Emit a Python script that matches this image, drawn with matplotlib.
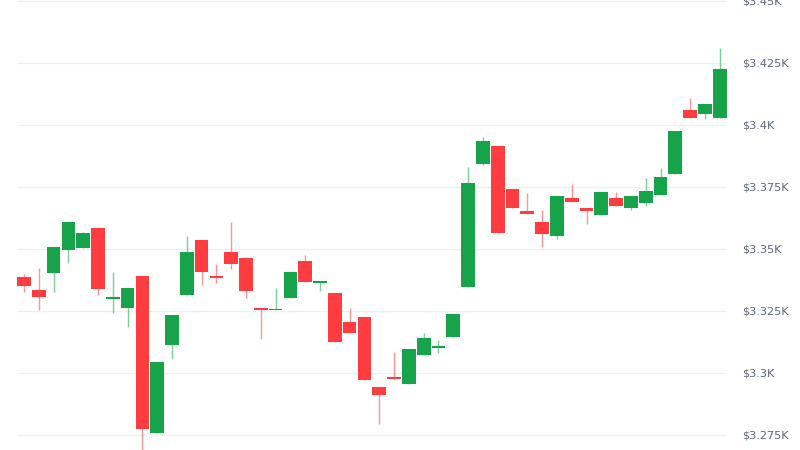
import numpy as np
import matplotlib.pyplot as plt

# OHLC values (48 candles)
opens = [3338.6, 3333.5, 3340.4, 3349.6, 3350.4, 3358.6, 3329.8, 3326.3,
         3339.2, 3275.7, 3311.3, 3331.5, 3353.6, 3339.0, 3348.9, 3346.2,
         3326.1, 3325.3, 3330.4, 3345.2, 3336.2, 3332.1, 3320.4, 3322.7,
         3294.5, 3298.5, 3295.4, 3307.1, 3310.2, 3314.4, 3334.6, 3384.4,
         3391.5, 3374.1, 3365.3, 3360.9, 3355.1, 3370.6, 3366.7, 3363.6,
         3370.6, 3366.4, 3368.7, 3371.8, 3380.1, 3405.9, 3404.3, 3402.7]
highs = [3339.9, 3342.5, 3350.9, 3361.0, 3357.0, 3358.6, 3340.7, 3334.2,
         3339.2, 3304.4, 3323.4, 3355.4, 3353.6, 3344.0, 3361.0, 3346.9,
         3326.1, 3334.2, 3340.6, 3347.6, 3337.2, 3332.1, 3326.1, 3322.7,
         3294.5, 3308.6, 3309.6, 3316.2, 3313.3, 3323.8, 3383.1, 3395.3,
         3391.5, 3374.1, 3372.5, 3365.7, 3371.2, 3376.1, 3366.7, 3373.1,
         3373.1, 3371.5, 3378.5, 3382.8, 3397.7, 3410.8, 3408.6, 3430.9]
lows = [3332.8, 3325.4, 3332.8, 3344.5, 3350.4, 3331.3, 3324.3, 3318.5,
        3268.5, 3275.7, 3305.6, 3331.5, 3335.5, 3336.2, 3341.9, 3330.1,
        3313.8, 3325.3, 3330.4, 3336.6, 3333.2, 3312.5, 3316.0, 3297.1,
        3279.4, 3297.6, 3295.4, 3307.1, 3308.2, 3314.4, 3334.6, 3383.9,
        3356.6, 3366.4, 3364.2, 3350.7, 3353.9, 3369.1, 3360.2, 3363.6,
        3367.2, 3365.7, 3367.5, 3371.8, 3380.1, 3402.7, 3402.3, 3402.7]
closes = [3335.1, 3330.6, 3350.9, 3361.0, 3356.5, 3333.7, 3330.6, 3334.2,
          3277.5, 3304.4, 3323.4, 3348.9, 3340.8, 3338.4, 3343.8, 3333.1,
          3325.5, 3325.8, 3340.6, 3336.6, 3337.2, 3312.5, 3316.0, 3297.1,
          3291.1, 3297.6, 3309.6, 3314.1, 3310.6, 3323.8, 3376.7, 3393.4,
          3356.6, 3366.4, 3364.2, 3355.9, 3371.2, 3369.1, 3365.2, 3373.1,
          3367.2, 3371.5, 3373.3, 3379.2, 3397.7, 3402.7, 3408.6, 3422.5]

price_ticks = [3275, 3300, 3325, 3350, 3375, 3400, 3425, 3450]
tick_labels = ['$3.275K', '$3.3K', '$3.325K', '$3.35K', '$3.375K', '$3.4K', '$3.425K', '$3.45K']

green = '#17a34a'
red = '#ff3c40'

o = np.array(opens)
c = np.array(closes)
x = np.arange(len(o))
up = c >= o
colors = np.where(up, green, red)

fig = plt.figure(figsize=(8, 4.5), dpi=100)
ax = fig.add_axes([17 / 800, 0, 710 / 800, 1])

# wicks
ax.vlines(x, lows, highs, colors=colors, linewidth=1, alpha=0.55, zorder=2)
# bodies (minimum height so dojis stay visible)
bottoms = np.minimum(o, c)
heights = np.maximum(np.abs(c - o), 0.6)
ax.bar(x, heights, bottom=bottoms, width=0.925, color=colors, zorder=3)

ax.set_xlim(-0.47, 47.49)
ax.set_ylim(3268.95, 3450.4)

ax.yaxis.tick_right()
ax.set_yticks(price_ticks)
ax.set_yticklabels(tick_labels)
ax.tick_params(axis='y', length=0, pad=11, labelsize=8.1, labelcolor='#5b6678')
ax.set_xticks([])
ax.grid(axis='y', color='#eef1f4', linewidth=1, zorder=0)
for s in ax.spines.values():
    s.set_visible(False)

fig.savefig('out.png', dpi=100)
